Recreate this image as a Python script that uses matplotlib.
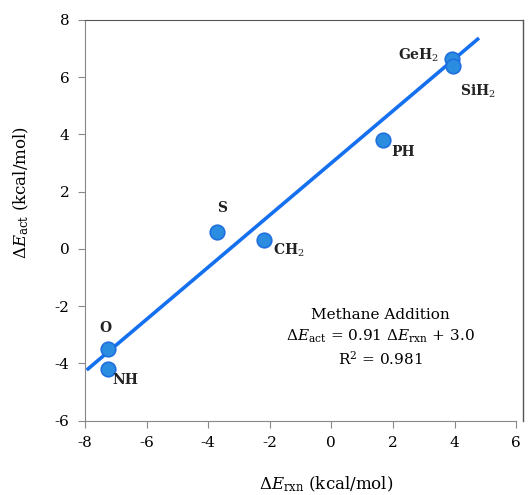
import matplotlib
matplotlib.use('Agg')
import matplotlib.pyplot as plt
from matplotlib.lines import Line2D
import numpy as np

plt.rcParams['font.family'] = 'DejaVu Serif'
plt.rcParams['mathtext.fontset'] = 'dejavuserif'
plt.rcParams['axes.unicode_minus'] = False

# data
names = ['GeH$_2$', 'SiH$_2$', 'PH', 'S', 'CH$_2$', 'O', 'NH']
e_rxn = [3.92, 3.95, 1.69, -3.70, -2.19, -7.26, -7.26]
e_act = [6.63, 6.40, 3.81, 0.60, 0.31, -3.51, -4.20]
slope, intercept = 0.91, 3.0
fit_x = [-7.9, 4.75]

# label offsets in pixels (dx, dy, ha)
offsets = [(-13, 4, 'right'), (7, -26, 'left'), (8, -12, 'left'),
           (5, 24, 'center'), (9, -10, 'left'), (-2, 21, 'center'), (5, -11, 'left')]

fig = plt.figure(figsize=(5.31, 4.95), dpi=100)
ax = fig.add_axes([0.160, 0.150, 0.812, 0.810])

fx = np.array(fit_x)
ax.plot(fx, slope * fx + intercept, color='#1570f0', lw=2.6, zorder=2)
ax.scatter(e_rxn, e_act, s=110, color='#2b8de0', edgecolor='#1f6fdf', lw=1.2, zorder=3)

for n, x, y, (dx, dy, ha) in zip(names, e_rxn, e_act, offsets):
    ax.annotate(n, (x, y), xytext=(dx, dy), textcoords='offset pixels',
                ha=ha, va='center', fontsize=10, fontweight='bold', color='#222222')

ax.set_xlim(-8, 6)
ax.set_ylim(-6, 8)
ax.set_xticks(range(-8, 7, 2))
ax.set_yticks(range(-6, 9, 2))
ax.tick_params(direction='out', length=5, color='#888888', labelsize=11, pad=6)
for s in ['left', 'bottom']:
    ax.spines[s].set_color('#888888')
ax.spines['right'].set_visible(False)
ax.spines['top'].set_color('#555555')
ax.spines['top'].set_bounds(-8, 6.23)
ax.add_line(Line2D([1.0161, 1.0161], [0, 1], transform=ax.transAxes, color='#555555',
                   lw=1.0, clip_on=False))

ax.set_xlabel(r'$\Delta E_{\rm rxn}$ (kcal/mol)', fontsize=12)
ax.xaxis.set_label_coords(0.56, -0.135)
ax.set_ylabel(r'$\Delta E_{\rm act}$ (kcal/mol)', fontsize=12)
ax.yaxis.set_label_coords(-0.125, 0.57)

ax.text(1.6, -2.3, 'Methane Addition', ha='center', va='center', fontsize=11)
ax.text(1.6, -3.05, r'$\Delta E_{\rm act}$ = 0.91 $\Delta E_{\rm rxn}$ + 3.0',
        ha='center', va='center', fontsize=11)
ax.text(1.6, -3.85, r'R$^2$ = 0.981', ha='center', va='center', fontsize=11)

fig.savefig('out.png', dpi=100)
